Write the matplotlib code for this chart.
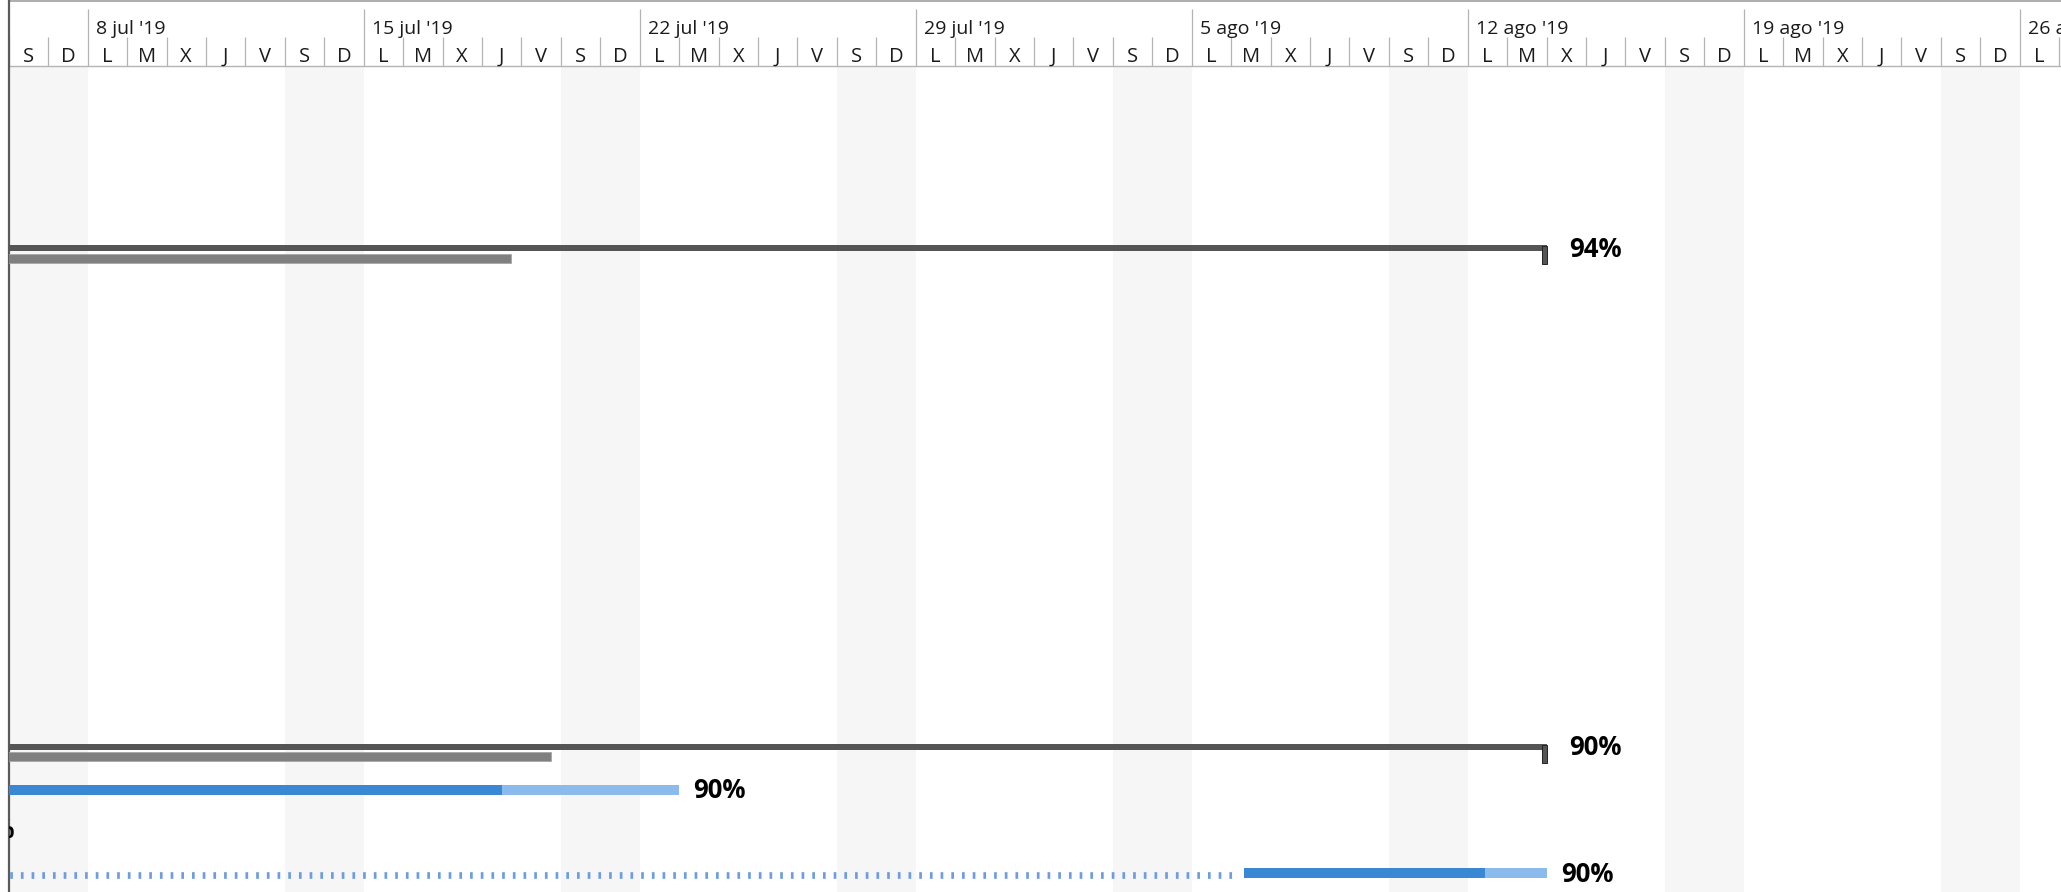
import matplotlib
matplotlib.use("Agg")
import matplotlib.pyplot as plt
import matplotlib.dates as mdates
import pandas as pd

plt.rcParams["font.family"] = ["Open Sans", "DejaVu Sans"]
plt.rcParams["lines.scale_dashes"] = False

# --- timescale ---
view_start = "2019-07-06"
week_starts = ["2019-07-08", "2019-07-15", "2019-07-22", "2019-07-29",
               "2019-08-05", "2019-08-12", "2019-08-19", "2019-08-26"]
week_labels = ["8 jul '19", "15 jul '19", "22 jul '19", "29 jul '19",
               "5 ago '19", "12 ago '19", "19 ago '19", "26 ago '19"]
day_letters = ["L", "M", "X", "J", "V", "S", "D"]  # Monday first

# --- summary tasks ---
summary_start = ["2019-06-03", "2019-06-03"]
summary_finish = ["2019-08-14", "2019-08-14"]
summary_baseline_finish = ["2019-07-18 17:45", "2019-07-19 17:45"]
summary_labels = ["94%", "90%"]

# --- regular tasks (segments; split tasks have several) ---
task_segments = [
    [("2019-06-10", "2019-07-04 11:00")],
    [("2019-06-08", "2019-07-23")],
    [("2019-06-20", "2019-06-27 21:36"), ("2019-08-06 08:00", "2019-08-14")],
]
task_pct = [90, 90, 90]
task_labels = ["90%", "90%", "90%"]

# row layout (pixels from top)
summary_rows = [248, 746.5]
task_rows = [829, 790, 873]

W, H = 2061, 892
X0 = 8.8          # left edge of the timescale, px
DAY_PX = 39.43    # one day, px
HEADER = 66

SUMMARY = "#555555"
BASELINE = "#808080"
DONE = "#3a87d4"
TODO = "#8abbec"
GRID = "#b4b4b4"
LABEL_FONT = dict(fontsize=18.5, fontweight="bold", color="black",
                  family=["Open Sans", "DejaVu Sans"])


def dnum(s):
    return mdates.date2num(pd.Timestamp(s))


def px(n):
    return n / DAY_PX


def progress_end(segments, pct):
    total = sum(e - s for s, e in segments)
    left = total * pct / 100
    for s, e in segments:
        if left <= e - s:
            return s + left
        left -= e - s
    return segments[-1][1]


fig = plt.figure(figsize=(W / 100, H / 100), dpi=100)
ax = fig.add_axes([X0 / W, 0, 1 - X0 / W, 1])
x_left = dnum(view_start)
x_right = x_left + px(W - X0)
ax.set_xlim(x_left, x_right)
ax.set_ylim(H, 0)
ax.axis("off")

# weekend columns
days = pd.date_range(view_start, periods=int(x_right - x_left) + 2, freq="D")
for d in days:
    if d.weekday() == 5:
        ax.bar(dnum(d), H - HEADER, width=2, bottom=HEADER, align="edge",
               color="#f6f6f6", zorder=0)

# header
ax.axhline(0.7, color="#a0a0a0", lw=1.2, clip_on=False)
ax.hlines(HEADER, x_left, x_right, colors=GRID, lw=1.0)
for d in days:
    x = dnum(d)
    if d.weekday() == 0:
        ax.vlines(x, 9, HEADER, colors=GRID, lw=0.9)
    else:
        ax.vlines(x, 37, HEADER, colors=GRID, lw=0.9)
    ax.text(x + 0.5, 62, day_letters[d.weekday()], ha="center", va="baseline",
            fontsize=14.5, color="#1a1a1a")
for ws, lab in zip(week_starts, week_labels):
    ax.text(dnum(ws) + px(8), 33.5, lab, ha="left", va="baseline",
            fontsize=14, color="#1a1a1a")

ax.axvline(x_left, color="#5a5a5a", lw=1.6, clip_on=False)

# summary bars with baseline and end cap
for y, s, f, bf, lab in zip(summary_rows, summary_start, summary_finish,
                            summary_baseline_finish, summary_labels):
    s, f, bf = dnum(s), dnum(f), dnum(bf)
    ax.barh(y, f - s, left=s, height=6, color=SUMMARY, zorder=3)
    ax.barh(y + 10, bf - s, left=s, height=9, color=BASELINE,
            edgecolor="#a8a8a8", lw=0.6, zorder=3)
    ax.barh(y + 7, px(4.4), left=f - px(4.4), height=18, color=SUMMARY,
            edgecolor="#222222", lw=0.7, zorder=4)
    ax.text(f + px(23), y + 8.7, lab, ha="left", va="baseline", **LABEL_FONT)

# task bars
for y, segs, pct, lab in zip(task_rows, task_segments, task_pct, task_labels):
    segs = [(dnum(s), dnum(e)) for s, e in segs]
    done = progress_end(segs, pct)
    for (s0, e0), (s1, e1) in zip(segs[:-1], segs[1:]):
        ax.hlines(y + 1.5, e0, s1 - px(6), colors="#6d9de0", lw=4.8,
                  linestyles=(0, (1.94, 5.76)), zorder=2)
    for s, e in segs:
        ax.barh(y, e - s, left=s, height=10, color=TODO, zorder=3)
        if done > s:
            ax.barh(y, min(done, e) - s, left=s, height=10, color=DONE, zorder=4)
    ax.text(segs[-1][1] + px(14.5), y + 8.5, lab, ha="left", va="baseline",
            clip_on=True, **LABEL_FONT)

fig.savefig("out.png", dpi=100)
